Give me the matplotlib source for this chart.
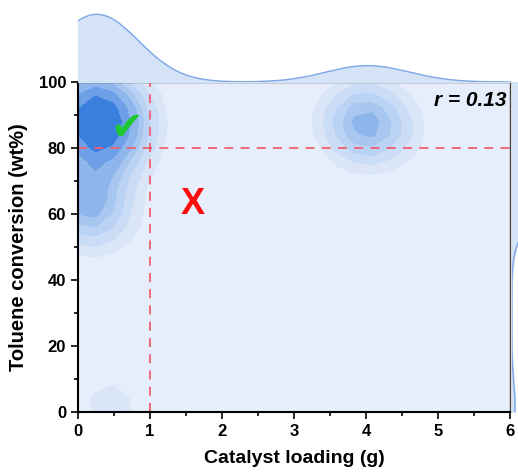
import numpy as np
import matplotlib
matplotlib.use("Agg")
import matplotlib.pyplot as plt
from matplotlib.colors import LinearSegmentedColormap
from matplotlib.ticker import MultipleLocator

plt.rcParams['font.family'] = ['Liberation Sans', 'DejaVu Sans']

# catalyst loading (g) and toluene conversion (wt%) for each run
loading = [0.05, 0.15, 0.25, 0.35, 0.10, 0.20, 0.30, 0.40, 0.10, 0.25,
           0.45, 0.20, 0.05, 0.35, 0.30, 0.10, 0.45,
           0.60, 0.70, 0.60,
           0.10, 0.30, 0.05, 0.15, 0.20, 0.40, 0.05, 0.10,
           0.45,
           3.85, 4.00, 4.10, 3.95, 4.40, 3.85, 4.05]
conversion = [92, 95, 93, 90, 87, 85, 88, 84, 82, 80,
              92, 90, 84, 82, 96, 97, 86,
              90, 88, 78,
              70, 72, 63, 60, 65, 58, 66, 62,
              2,
              88, 86, 88, 84, 85, 90, 89]
r_value = 0.13
x_cut, y_cut = 1.0, 80.0

x = np.array(loading)
y = np.array(conversion)
bw_x, bw_y = 0.32, 7.0


def kde2d(gx, gy):
    z = np.zeros_like(gx)
    for xi, yi in zip(x, y):
        z += np.exp(-0.5 * (((gx - xi) / bw_x) ** 2 + ((gy - yi) / bw_y) ** 2))
    return z / z.max()


def kde1d(g, pts, bw):
    d = np.zeros_like(g)
    for p in pts:
        d += np.exp(-0.5 * ((g - p) / bw) ** 2)
    return d


fig = plt.figure(figsize=(5.18, 4.74), dpi=100)
ax = fig.add_axes([0.1506, 0.1308, 0.834, 0.696])
ax_top = fig.add_axes([0.1506, 0.827, 0.834, 0.15])
ax_right = fig.add_axes([0.988, 0.1308, 0.15, 0.696])

cmap = LinearSegmentedColormap.from_list("blu", ["#EAF1FB", "#1B6BD9"])
gx, gy = np.meshgrid(np.linspace(0, 6, 26), np.linspace(0, 100, 26))
z = kde2d(gx, gy)
levels = np.array([0, 0.05, 0.11, 0.19, 0.28, 0.37, 0.52, 0.7, 1.01])
ax.contourf(gx, gy, z, levels=levels, cmap=cmap)

ax.axvline(x_cut, color="#F06070", ls=(0, (5, 4)), lw=1.3)
ax.axhline(y_cut, color="#F06070", ls=(0, (5, 4)), lw=1.3)

ax.text(0.68, 86, "\u2714", color="#1FC832", fontsize=28, ha="center", va="center",
        family="DejaVu Sans")
ax.text(1.6, 63, "X", color="#FF0A0A", fontsize=26, fontweight="bold",
        ha="center", va="center")
ax.text(5.95, 94.5, "r = %.2f" % r_value, fontsize=15, fontweight="bold",
        fontstyle="italic", ha="right", va="center")

ax.set_xlim(0, 6)
ax.set_ylim(0, 100)
ax.xaxis.set_major_locator(MultipleLocator(1))
ax.xaxis.set_minor_locator(MultipleLocator(0.5))
ax.yaxis.set_major_locator(MultipleLocator(20))
ax.yaxis.set_minor_locator(MultipleLocator(10))
ax.tick_params(which="both", direction="out", width=1.2, labelsize=12)
ax.tick_params(which="major", length=5)
ax.tick_params(which="minor", length=3)
for lab in ax.get_xticklabels() + ax.get_yticklabels():
    lab.set_fontweight("bold")
for s in ["left", "bottom"]:
    ax.spines[s].set_linewidth(1.5)
for s in ["top", "right"]:
    ax.spines[s].set_linewidth(1.0)
    ax.spines[s].set_color("#444444")
ax.set_xlabel("Catalyst loading (g)", fontsize=14, fontweight="bold", labelpad=8)
ax.set_ylabel("Toluene conversion (wt%)", fontsize=14.5, fontweight="bold", labelpad=8)

# marginal densities
g = np.linspace(0, 6, 300)
dx = kde1d(g, x, 0.55)
ax_top.fill_between(g, dx, color="#D5E3F7")
ax_top.plot(g, dx, color="#7DA8E8", lw=1)
ax_top.set_xlim(0, 6)
ax_top.set_ylim(0, dx.max() * 1.05)
ax_top.axis("off")

gy1 = np.linspace(0, 100, 300)
dy = kde1d(gy1, y, 7)
ax_right.fill_betweenx(gy1, dy, color="#D5E3F7")
ax_right.plot(dy, gy1, color="#7DA8E8", lw=1)
ax_right.set_ylim(0, 100)
ax_right.set_xlim(0, dy.max() * 1.08)
ax_right.axis("off")

fig.savefig("out.png", dpi=100)
